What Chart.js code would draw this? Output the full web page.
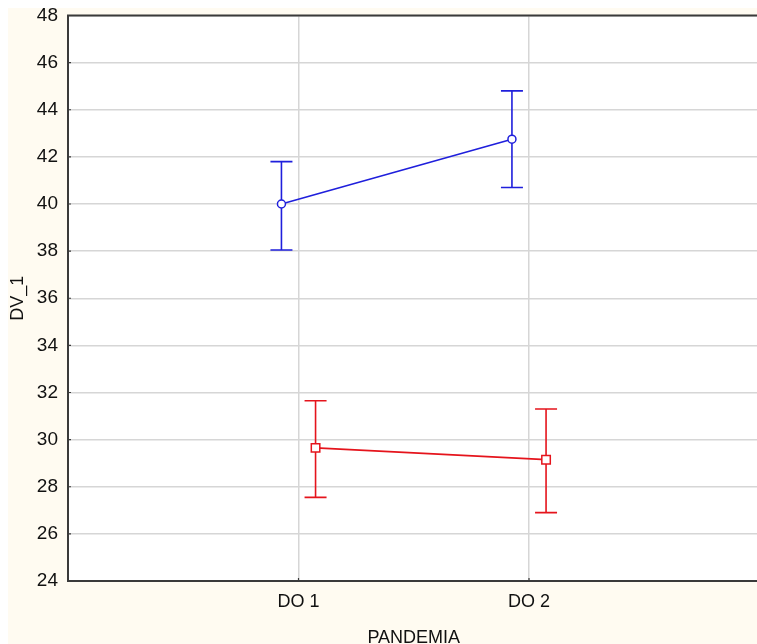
<!DOCTYPE html>
<html lang="es">
<head>
    <meta charset="UTF-8">
    <title>DV_1 vs PANDEMIA</title>
    <script src="https://cdn.jsdelivr.net/npm/chart.js"></script>
    <style>
        html, body { margin: 0; padding: 0; background: #ffffff; overflow: hidden; }
        #fondo { position: absolute; left: 8px; top: 8px; width: 800px; height: 700px; background: #fffbf1; }
        #grafica { position: absolute; left: 0; top: 0; }
    </style>
</head>
<body>
    <div id="fondo"></div>
    <canvas id="grafica" width="767" height="660"></canvas>

    <script>
        // Datos
        const categorias = ['DO 1', 'DO 2'];
        const ticksY = [24, 26, 28, 30, 32, 34, 36, 38, 40, 42, 44, 46, 48];

        const mediaAzul = [40.0, 42.75];
        const bajoAzul  = [38.05, 40.7];
        const altoAzul  = [41.8, 44.8];

        const mediaRoja = [29.65, 29.15];
        const bajoRoja  = [27.55, 26.9];
        const altoRoja  = [31.65, 31.3];

        const AZUL = '#1f1fdc';
        const ROJO = '#e5141c';
        const EJE = '#3a3a3a';
        const DESPLAZA = 0.074; // separacion de las series dentro de cada categoria

        function puntos(medias, lado) {
            return medias.map((v, i) => ({ x: i + 1 + lado * DESPLAZA, y: v }));
        }

        // Fondo blanco del area, barras de error, marco y marcas de los ejes
        const barrasError = {
            id: 'barrasError',
            beforeDraw(chart) {
                const a = chart.chartArea;
                chart.ctx.save();
                chart.ctx.fillStyle = '#ffffff';
                chart.ctx.fillRect(a.left, a.top, a.right - a.left, a.bottom - a.top);
                chart.ctx.restore();
            },
            beforeDatasetsDraw(chart) {
                const ctx = chart.ctx;
                const xs = chart.scales.x, ys = chart.scales.y;
                const series = [
                    { lado: -1, bajo: bajoAzul, alto: altoAzul, color: AZUL },
                    { lado: 1, bajo: bajoRoja, alto: altoRoja, color: ROJO }
                ];
                ctx.save();
                ctx.lineWidth = 1.6;
                series.forEach(s => {
                    ctx.strokeStyle = s.color;
                    categorias.forEach((c, i) => {
                        const px = xs.getPixelForValue(i + 1 + s.lado * DESPLAZA);
                        const y1 = ys.getPixelForValue(s.bajo[i]);
                        const y2 = ys.getPixelForValue(s.alto[i]);
                        ctx.beginPath();
                        ctx.moveTo(px, y1); ctx.lineTo(px, y2);
                        ctx.moveTo(px - 11, y1); ctx.lineTo(px + 11, y1);
                        ctx.moveTo(px - 11, y2); ctx.lineTo(px + 11, y2);
                        ctx.stroke();
                    });
                });
                ctx.restore();
            },
            afterDraw(chart) {
                const ctx = chart.ctx;
                const a = chart.chartArea;
                const xs = chart.scales.x, ys = chart.scales.y;
                ctx.save();
                ctx.strokeStyle = EJE;
                ctx.lineWidth = 2;
                ctx.strokeRect(a.left, a.top, a.right - a.left, a.bottom - a.top);
                ctx.lineWidth = 1.2;
                ctx.beginPath();
                ticksY.forEach(t => {
                    const py = ys.getPixelForValue(t);
                    ctx.moveTo(a.left, py); ctx.lineTo(a.left + 3, py);
                });
                categorias.forEach((c, i) => {
                    const px = xs.getPixelForValue(i + 1);
                    ctx.moveTo(px, a.bottom); ctx.lineTo(px, a.bottom - 3);
                });
                ctx.stroke();
                ctx.restore();
            }
        };

        const fuente = { family: "'Liberation Sans', Arial, sans-serif", size: 18 };

        new Chart(document.getElementById('grafica'), {
            type: 'line',
            data: {
                datasets: [
                    {
                        label: 'Serie 1',
                        data: puntos(mediaAzul, -1),
                        borderColor: AZUL,
                        borderWidth: 1.6,
                        pointStyle: 'circle',
                        pointRadius: 4,
                        pointBorderWidth: 1.5,
                        pointBorderColor: AZUL,
                        pointBackgroundColor: '#ffffff'
                    },
                    {
                        label: 'Serie 2',
                        data: puntos(mediaRoja, 1),
                        borderColor: ROJO,
                        borderWidth: 1.6,
                        pointStyle: 'rect',
                        pointRadius: 6,
                        pointBorderWidth: 1.5,
                        pointBorderColor: ROJO,
                        pointBackgroundColor: '#ffffff'
                    }
                ]
            },
            options: {
                responsive: false,
                animation: false,
                layout: { padding: { left: 0, right: 2, top: 15.5, bottom: 0 } },
                plugins: { legend: { display: false }, tooltip: { enabled: false } },
                scales: {
                    x: {
                        type: 'linear',
                        min: 0,
                        max: 3,
                        afterBuildTicks(scale) {
                            scale.ticks = categorias.map((c, i) => ({ value: i + 1 }));
                        },
                        afterFit(scale) { scale.height = 79; },
                        ticks: {
                            color: '#111111',
                            font: fuente,
                            padding: 10,
                            callback: (v) => categorias[v - 1]
                        },
                        grid: { color: '#d6d6d6', lineWidth: 1.5, drawTicks: false },
                        border: { color: EJE, width: 2 },
                        title: {
                            display: true,
                            text: 'PANDEMIA',
                            color: '#111111',
                            font: { ...fuente, lineHeight: 1 },
                            padding: { top: 0, bottom: 13 }
                        }
                    },
                    y: {
                        min: 24,
                        max: 48,
                        afterBuildTicks(scale) {
                            scale.ticks = ticksY.map(v => ({ value: v }));
                        },
                        afterFit(scale) { scale.width = 68; },
                        ticks: { color: '#111111', font: { ...fuente, size: 19, lineHeight: 0.5 }, padding: 10 },
                        grid: { color: '#d6d6d6', lineWidth: 1.5, drawTicks: false },
                        border: { color: EJE, width: 2 },
                        title: {
                            display: true,
                            text: 'DV_1',
                            color: '#111111',
                            font: { ...fuente, lineHeight: 1 },
                            padding: { top: 9, bottom: 0 }
                        }
                    }
                }
            },
            plugins: [barrasError]
        });
    </script>
</body>
</html>
